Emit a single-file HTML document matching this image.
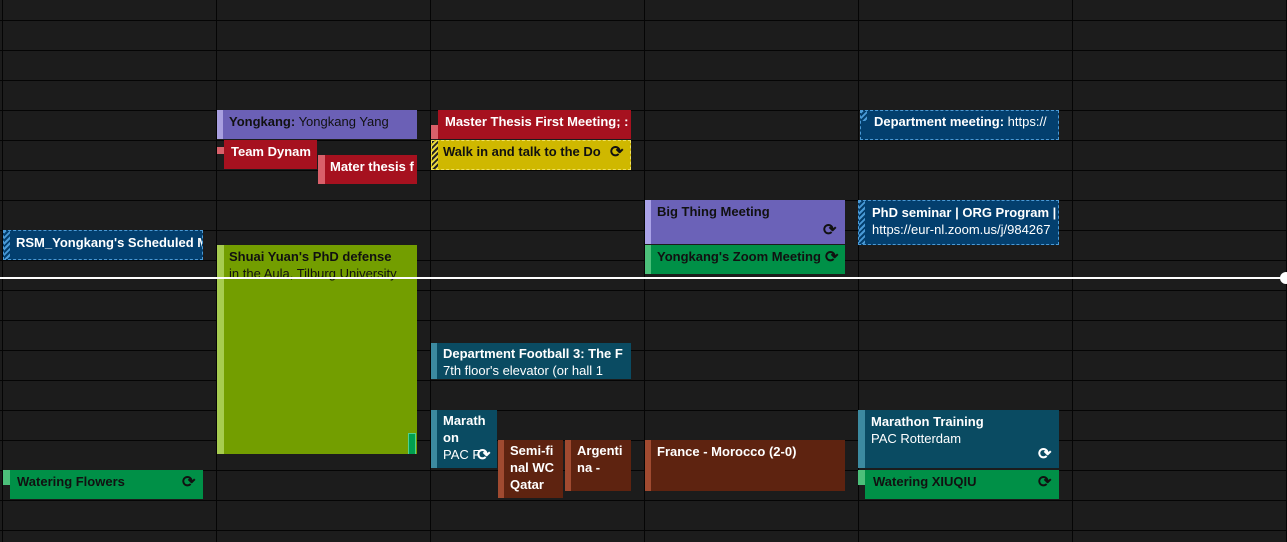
<!DOCTYPE html>
<html><head><style>
body{margin:0;width:1287px;height:542px;background:#1c1c1c;position:relative;overflow:hidden;font-family:"Liberation Sans",sans-serif;}
.h{position:absolute;left:0;width:1287px;height:1px;background:#050505}
.v{position:absolute;top:0;height:542px;width:1px;background:#050505}
.e{position:absolute;box-sizing:border-box;font-size:13px;line-height:17px;white-space:nowrap;overflow:hidden;padding-left:8px}
.b{font-weight:bold}
.s{position:absolute}
.w{color:#fff}.k{color:#111}
.d{border:1px dashed #4a9ad6;background:#033f6e;color:#fff}
.hat{position:absolute;left:0;top:0;bottom:0;width:6px;background:repeating-linear-gradient(135deg,#4a9ad6 0 2px,#033f6e 2px 4px)}
.ic{position:absolute;font-size:16px;color:#111;font-weight:bold}
</style></head><body>
<div class="h" style="top:20px"></div><div class="h" style="top:50px"></div><div class="h" style="top:80px"></div>
<div class="h" style="top:110px"></div><div class="h" style="top:140px"></div><div class="h" style="top:170px"></div>
<div class="h" style="top:200px"></div><div class="h" style="top:230px"></div><div class="h" style="top:260px"></div>
<div class="h" style="top:290px"></div><div class="h" style="top:320px"></div><div class="h" style="top:350px"></div>
<div class="h" style="top:380px"></div><div class="h" style="top:410px"></div><div class="h" style="top:440px"></div>
<div class="h" style="top:470px"></div><div class="h" style="top:500px"></div><div class="h" style="top:530px"></div>
<div class="v" style="left:2px"></div><div class="v" style="left:216px"></div><div class="v" style="left:430px"></div>
<div class="v" style="left:644px"></div><div class="v" style="left:858px"></div><div class="v" style="left:1072px"></div><div class="v" style="left:1286px"></div>

<div class="e k" style="left:217px;top:110px;width:200px;height:29px;background:#6b60b6;padding:3px 0 0 12px"><div class="s" style="left:0;top:0;width:6px;height:29px;background:#a89fe0"></div><span class="b">Yongkang:</span> Yongkang Yang</div>
<div class="s" style="left:217px;top:147px;width:7px;height:7px;background:#d9606a"></div>
<div class="e w b" style="left:224px;top:140px;width:93px;height:29px;background:#a6111f;padding:3px 0 0 7px">Team Dynam</div>
<div class="e w b" style="left:318px;top:155px;width:99px;height:29px;background:#a6111f;padding:3px 0 0 12px"><div class="s" style="left:0;top:0;width:7px;height:29px;background:#d9606a"></div>Mater thesis f</div>

<div class="s" style="left:431px;top:125px;width:7px;height:14px;background:#d9606a"></div>
<div class="e w b" style="left:438px;top:110px;width:193px;height:29px;background:#a6111f;padding:3px 0 0 7px">Master Thesis First Meeting; :</div>
<div class="e k b" style="left:431px;top:140px;width:200px;height:30px;background:#cfb800;border:1px dashed #f0e060;padding:2px 0 0 11px"><div class="s" style="left:0;top:0;width:6px;height:30px;background:repeating-linear-gradient(135deg,#222 0 2px,#e8d640 2px 4px)"></div>Walk in and talk to the Do<span class="ic" style="left:178px;top:3px">⟳</span></div>

<div class="e d" style="left:860px;top:110px;width:199px;height:30px;padding:2px 0 0 13px"><div class="hat" style="height:10px;bottom:auto"></div><span class="b">Department meeting:</span> https://</div>
<div class="e d" style="left:858px;top:200px;width:201px;height:45px;padding:3px 0 0 13px;line-height:17px"><div class="hat"></div><span class="b">PhD seminar | ORG Program |</span><br>https://eur-nl.zoom.us/j/984267</div>
<div class="e d b" style="left:3px;top:230px;width:200px;height:30px;padding:3px 0 0 12px"><div class="hat"></div>RSM_Yongkang's Scheduled M</div>

<div class="e k" style="left:217px;top:245px;width:200px;height:209px;background:#739e00;padding:3px 0 0 12px;line-height:17px"><div class="s" style="left:0;top:0;width:7px;height:209px;background:#a7cc50"></div><span class="b">Shuai Yuan's PhD defense</span><br>in the Aula, Tilburg University<div class="s" style="left:191px;top:188px;width:6px;height:20px;background:#00a050;border:1px solid #50d090"></div></div>

<div class="e k b" style="left:645px;top:200px;width:200px;height:44px;background:#6b62b8;padding:3px 0 0 12px"><div class="s" style="left:0;top:0;width:6px;height:44px;background:#aaa2e8"></div>Big Thing Meeting<span class="ic" style="left:178px;top:22px">⟳</span></div>
<div class="e k b" style="left:645px;top:245px;width:200px;height:29px;background:#009047;padding:3px 0 0 12px"><div class="s" style="left:0;top:0;width:6px;height:29px;background:#4cc07a"></div>Yongkang's Zoom Meeting<span class="ic" style="left:180px;top:4px">⟳</span></div>

<div class="s" style="left:0;top:277px;width:1284px;height:2px;background:#fff"></div>
<div class="s" style="left:1280px;top:272px;width:12px;height:12px;border-radius:50%;background:#fff"></div>

<div class="e w" style="left:431px;top:343px;width:200px;height:36px;background:#0a4b62;padding:2px 0 0 12px;line-height:17px"><div class="s" style="left:0;top:0;width:6px;height:36px;background:#3c8aa0"></div><span class="b">Department Football 3: The F</span><br>7th floor's elevator (or hall 1</div>

<div class="e w" style="left:431px;top:410px;width:66px;height:58px;background:#0a4b62;padding:2px 0 0 12px;line-height:17px"><div class="s" style="left:0;top:0;width:6px;height:58px;background:#3c8aa0"></div><span class="b">Marath<br>on</span><br>PAC F<span class="ic" style="left:46px;top:37px;color:#fff">⟳</span></div>
<div class="e w b" style="left:498px;top:440px;width:65px;height:58px;background:#5e2310;padding:2px 0 0 12px;line-height:17px"><div class="s" style="left:0;top:0;width:6px;height:58px;background:#a04a30"></div>Semi-fi<br>nal WC<br>Qatar</div>
<div class="e w b" style="left:565px;top:440px;width:66px;height:51px;background:#5e2310;padding:2px 0 0 12px;line-height:17px"><div class="s" style="left:0;top:0;width:6px;height:51px;background:#a04a30"></div>Argenti<br>na -</div>
<div class="e w b" style="left:645px;top:440px;width:200px;height:51px;background:#5e2310;padding:3px 0 0 12px"><div class="s" style="left:0;top:0;width:6px;height:51px;background:#a04a30"></div>France - Morocco (2-0)</div>

<div class="e w" style="left:858px;top:410px;width:201px;height:58px;background:#0a4b62;padding:3px 0 0 13px;line-height:17px"><div class="s" style="left:0;top:0;width:7px;height:58px;background:#3c8aa0"></div><span class="b">Marathon Training</span><br>PAC Rotterdam<span class="ic" style="left:180px;top:36px;color:#fff">⟳</span></div>
<div class="s" style="left:858px;top:470px;width:7px;height:15px;background:#4cc07a"></div>
<div class="e k b" style="left:865px;top:470px;width:194px;height:29px;background:#009047;padding:3px 0 0 8px">Watering XIUQIU<span class="ic" style="left:173px;top:4px">⟳</span></div>
<div class="s" style="left:3px;top:470px;width:7px;height:15px;background:#4cc07a"></div>
<div class="e k b" style="left:10px;top:470px;width:193px;height:29px;background:#009047;padding:3px 0 0 7px">Watering Flowers<span class="ic" style="left:172px;top:4px">⟳</span></div>
</body></html>
